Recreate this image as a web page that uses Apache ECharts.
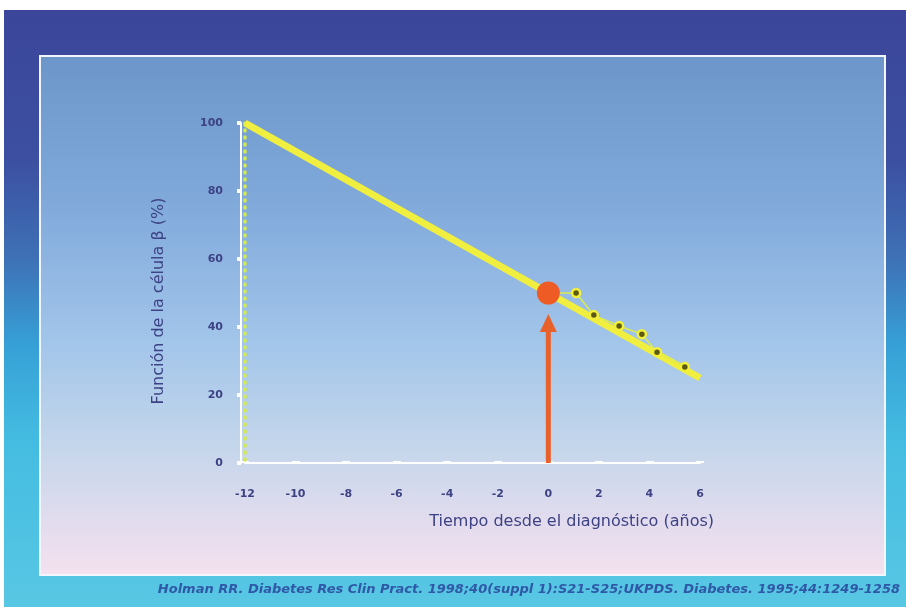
<!DOCTYPE html>
<html>
<head>
<meta charset="utf-8">
<script src="https://cdn.jsdelivr.net/npm/echarts@6/dist/echarts.min.js"></script>
<style>
  html, body { margin: 0; padding: 0; background: #ffffff; }
  #chart { width: 906px; height: 607px; }
</style>
</head>
<body>
<div id="chart"></div>
<script>
// Tick values for both axes
const xTicks = [-12, -10, -8, -6, -4, -2, 0, 2, 4, 6];
const yTicks = [0, 20, 40, 60, 80, 100];

// Estimated decline of beta-cell function (years vs %)
const trendYears = [-12, 6];
const trendValues = [100, 25];

// Observed values after diagnosis (UKPDS)
const obsYears = [1.1, 1.8, 2.8, 3.7, 4.3, 5.4];
const obsValues = [50, 43.5, 40.3, 37.9, 32.6, 28.2];

// Function at diagnosis
const diagYear = 0;
const diagValue = 50;
const arrowTop = 40;

const axisColor = '#3d4284';
const font = '"DejaVu Sans", sans-serif';

const chart = echarts.init(document.getElementById('chart'), null, { renderer: 'canvas' });

const lin = (stops) => ({
  type: 'linear', x: 0, y: 0, x2: 0, y2: 1,
  colorStops: stops.map(([o, c]) => ({ offset: o, color: c }))
});

const option = {
  backgroundColor: '#ffffff',
  animation: false,
  graphic: [
    {
      type: 'rect', z: -20, silent: true,
      shape: { x: 4, y: 10, width: 902, height: 597 },
      style: {
        fill: lin([[0, '#3b469a'], [0.25, '#3c4fa0'], [0.42, '#3e72b7'], [0.56, '#36a0d6'], [0.72, '#44bce1'], [1, '#58c7e4']])
      }
    },
    {
      type: 'rect', z: -19, silent: true,
      shape: { x: 40, y: 56, width: 845, height: 519 },
      style: {
        fill: lin([[0, '#6c95c9'], [0.3, '#82abdc'], [0.55, '#a2c5ea'], [0.75, '#c4d6eb'], [0.9, '#e3dcee'], [1, '#f4e2ef']]),
        stroke: '#f4f6ff', lineWidth: 2
      }
    },
    {
      type: 'text', z: -18, silent: true,
      style: {
        x: 900, y: 590, align: 'right', verticalAlign: 'middle',
        text: 'Holman RR. Diabetes Res Clin Pract. 1998;40(suppl 1):S21-S25;UKPDS. Diabetes. 1995;44:1249-1258',
        font: 'italic bold 13px ' + font,
        fill: '#2f58a6'
      }
    }
  ],
  grid: { left: 245, right: 206, top: 123, bottom: 144, containLabel: false },
  xAxis: {
    type: 'value', min: xTicks[0], max: xTicks[xTicks.length - 1], interval: 2,
    name: 'Tiempo desde el diagnóstico (años)',
    nameLocation: 'end', nameGap: 14,
    nameTextStyle: {
      color: axisColor, fontSize: 16, fontFamily: font,
      align: 'right', verticalAlign: 'top', padding: [51, 0, 0, 0]
    },
    axisLine: { show: true, onZero: false, lineStyle: { color: '#ffffff', width: 2 } },
    axisTick: { show: true, inside: true, length: 2, lineStyle: { color: '#ffffff', width: 8 } },
    axisLabel: {
      color: axisColor, fontSize: 11, fontWeight: 'bold', fontFamily: font, margin: 26,
      formatter: v => xTicks.includes(v) ? String(v) : ''
    },
    splitLine: { show: false }
  },
  yAxis: {
    type: 'value', min: yTicks[0], max: yTicks[yTicks.length - 1], interval: 20,
    offset: 4,
    name: 'Función de la célula β (%)',
    nameLocation: 'middle', nameGap: 74,
    nameTextStyle: { color: axisColor, fontSize: 16, fontFamily: font, padding: [0, 16, 0, 0] },
    axisLine: { show: true, onZero: false, lineStyle: { color: '#ffffff', width: 2 } },
    axisTick: { show: true, length: 4, lineStyle: { color: '#ffffff', width: 4 } },
    axisLabel: {
      color: axisColor, fontSize: 11, fontWeight: 'bold', fontFamily: font, margin: 18,
      formatter: v => yTicks.includes(v) ? String(v) : ''
    },
    splitLine: { show: false }
  },
  series: [
    {
      // dotted drop line from 100% at year -12
      type: 'line', z: 3,
      data: [[trendYears[0], trendValues[0]], [trendYears[0], 0]],
      symbol: 'none',
      lineStyle: { color: '#d4ea4c', width: 3.5, type: [1, 6], cap: 'round' }
    },
    {
      type: 'line', z: 4,
      data: trendYears.map((x, i) => [x, trendValues[i]]),
      symbol: 'none',
      lineStyle: { color: '#f0ee3e', width: 7 }
    },
    {
      type: 'line', z: 5,
      data: [{ value: [diagYear, diagValue], symbol: 'none' }]
        .concat(obsYears.map((x, i) => [x, obsValues[i]])),
      symbol: 'circle', symbolSize: 8,
      itemStyle: { color: '#5c5a12', borderColor: '#f2f03a', borderWidth: 2.5 },
      lineStyle: { color: '#e0ec4a', width: 1.5 }
    },
    {
      // arrow pointing at diagnosis
      type: 'line', z: 6,
      data: [
        { value: [diagYear, 0], symbol: 'none' },
        { value: [diagYear, arrowTop], symbol: 'triangle', symbolSize: [17, 18], symbolOffset: [0, -4] }
      ],
      showSymbol: true,
      itemStyle: { color: '#e8612b' },
      lineStyle: { color: '#e8612b', width: 5 }
    },
    {
      type: 'scatter', z: 7,
      data: [[diagYear, diagValue]],
      symbolSize: 23,
      itemStyle: { color: '#ef5b24', opacity: 1 }
    }
  ]
};

chart.setOption(option);
</script>
</body>
</html>
